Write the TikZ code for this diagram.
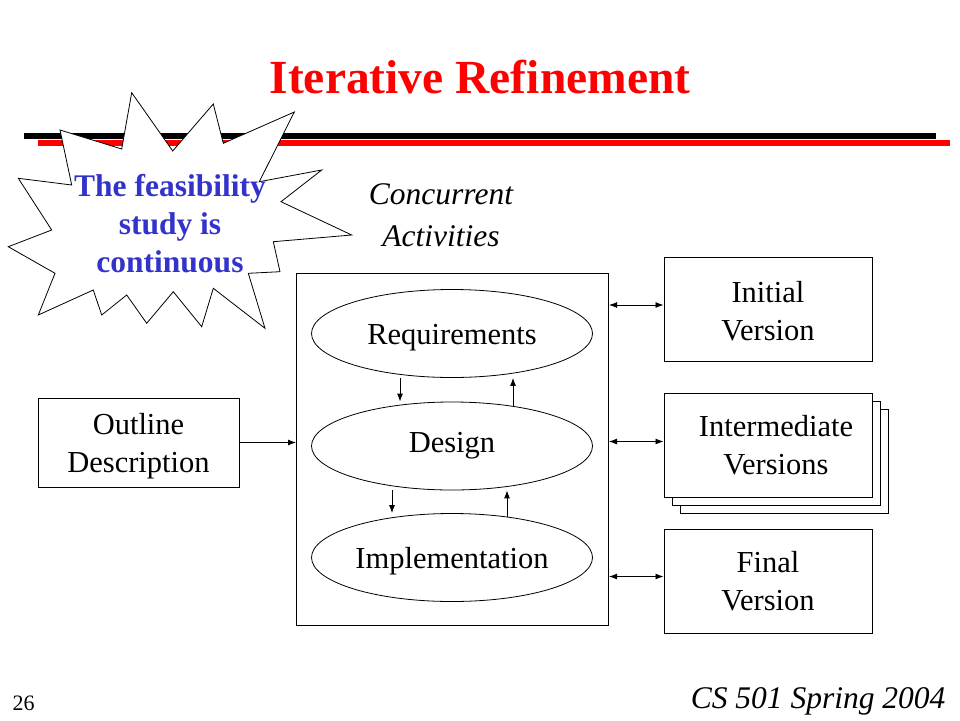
\documentclass[tikz,border=0pt]{standalone}
\usepackage{fontspec}
\setmainfont{Liberation Serif}
\usetikzlibrary{arrows.meta,shapes.geometric,calc}
\definecolor{titlered}{RGB}{255,0,0}
\definecolor{burstblue}{RGB}{51,51,204}
\newcommand\txtdown{\rule{0pt}{29pt}}
\newcommand\txtdownb{\rule{0pt}{25pt}}
\tikzset{
  body/.style={font=\fontsize{30.5}{38}\selectfont, align=center},
  boxnode/.style={draw, line width=1pt, inner sep=0pt, body},
  ell/.style={draw, ellipse, line width=0.8pt, inner sep=0pt, minimum width=281pt, minimum height=88pt, body},
  arr/.style={line width=0.9pt, -{Latex[length=8pt,width=6pt]}},
  dbl/.style={line width=0.9pt, {Latex[length=8pt,width=6pt]}-{Latex[length=8pt,width=6pt]}},
}
\begin{document}
\begin{tikzpicture}[x=1pt,y=-1pt]
\useasboundingbox[fill=white] (0,0) rectangle (960,720);

% title
\node[text=titlered, font=\fontsize{47.5}{50}\selectfont\bfseries, anchor=base] (title) at (480,93) {Iterative Refinement};

% rules
\draw[line width=6pt, black] (24,136) -- (936,136);
\draw[line width=6pt, titlered] (38,143) -- (950,143);

% starburst
\draw[line width=0.8pt, fill=white] (60,130) -- (121.7,149) -- (131.7,92.7) -- (172.7,151) -- (213.3,104) -- (223.3,143.3)
 -- (294.3,112) -- (259.3,181.7) -- (321.7,170) -- (281,201.7) -- (351.7,235) -- (273.3,241.7) -- (280,271.7)
 -- (248.3,273.3) -- (265,328.3) -- (213.3,288.3) -- (201.7,326.7) -- (173.3,291.7) -- (146.7,323.3)
 -- (126.7,295) -- (101.7,315) -- (93.3,290) -- (38.3,315) -- (55,273.3) -- (8.3,246.7) -- (51.7,230)
 -- (18.3,178.3) -- (71.7,185) -- cycle;
\node[text=burstblue, font=\fontsize{31.5}{38}\selectfont\bfseries, align=center] (burst) at (170,224)
  {The feasibility\\study is\\continuous};

% concurrent activities
\node[font=\fontsize{31.5}{42}\selectfont\itshape, align=center] (conc) at (441,215) {Concurrent\\Activities};

% big box
\node[draw, line width=1pt, minimum width=312pt, minimum height=352pt, inner sep=0pt] (big) at (452.5,449) {};

% ellipses
\node[ell] (req) at (452,333.5) {\txtdown Requirements};
\node[ell] (des) at (452,446) {Design};
\node[ell] (imp) at (452,557.5) {\txtdown Implementation};

\coordinate (x1) at (400,0);
\coordinate (x2) at (513,0);
\coordinate (x3) at (392,0);
\coordinate (x4) at (507,0);
\draw[arr] (req.south -| x1) -- (des.north -| x1);
\draw[arr] (des.north -| x2) ++(0,4) -- (req.south -| x2);
\draw[arr] (des.south -| x3) -- (imp.north -| x3);
\draw[arr] (imp.north -| x4) ++(0,4) -- (des.south -| x4);

% outline description
\node[boxnode, minimum width=201pt, minimum height=89pt] (outl) at (138.5,442.5) {\txtdown Outline\\Description};
\draw[arr] (outl.east) -- (big.west |- outl.east);

% right boxes
\node[boxnode, minimum width=208pt, minimum height=104pt] (init) at (768,309) {\txtdownb Initial\\Version};
\draw[line width=1pt, fill=white] (680,409) rectangle (888,513);
\draw[line width=1pt, fill=white] (672,401) rectangle (880,505);
\node[boxnode, fill=white, minimum width=208pt, minimum height=104pt] (inter) at (768,445) {};
\node[body] (interlbl) at (776,445) {Intermediate\\Versions};
\node[boxnode, minimum width=208pt, minimum height=104pt] (fin) at (768,581) {Final\\Version};

\draw[dbl] ([yshift=4pt]big.east |- init.west) -- ([yshift=4pt]init.west);
\draw[dbl] ([yshift=3.5pt]big.east |- inter.west) -- ([yshift=3.5pt]inter.west);
\draw[dbl] ([yshift=4.5pt]big.east |- fin.west) -- ([yshift=4.5pt]fin.west);

% footer
\node[font=\fontsize{22}{24}\selectfont, anchor=base west] (pnum) at (9,710) {26};
\node[font=\fontsize{31.5}{34}\selectfont\itshape, anchor=base east] (course) at (949,708) {CS 501 Spring 2004};
\end{tikzpicture}
\end{document}
